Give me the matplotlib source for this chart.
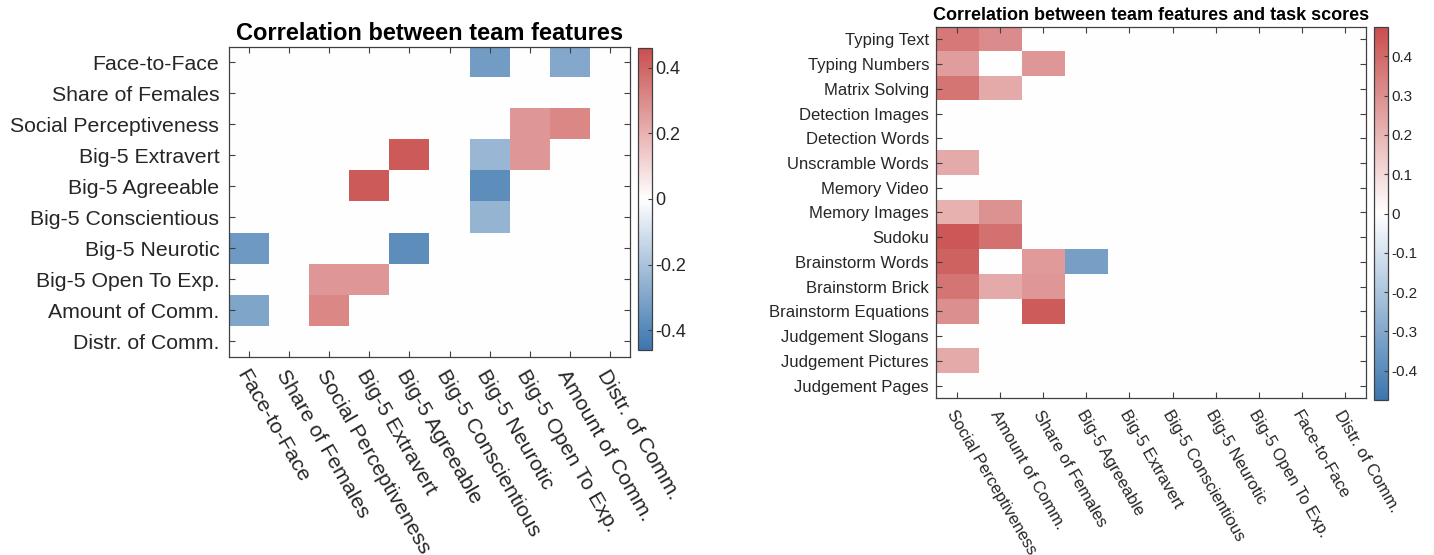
import matplotlib
matplotlib.use("Agg")
import matplotlib.pyplot as plt
from matplotlib.colors import LinearSegmentedColormap
import numpy as np

plt.rcParams["font.family"] = ["Liberation Sans", "DejaVu Sans"]

# ---- data -------------------------------------------------------------
team_features = [
    "Face-to-Face", "Share of Females", "Social Perceptiveness",
    "Big-5 Extravert", "Big-5 Agreeable", "Big-5 Conscientious",
    "Big-5 Neurotic", "Big-5 Open To Exp.", "Amount of Comm.",
    "Distr. of Comm.",
]

# rows = team_features, columns = team_features (0 = not significant)
team_corr = [
    [0, 0, 0, 0, 0, 0, -0.33, 0, -0.29, 0],
    [0, 0, 0, 0, 0, 0, 0, 0, 0, 0],
    [0, 0, 0, 0, 0, 0, 0, 0.27, 0.31, 0],
    [0, 0, 0, 0, 0.43, 0, -0.24, 0.27, 0, 0],
    [0, 0, 0, 0.43, 0, 0, -0.38, 0, 0, 0],
    [0, 0, 0, 0, 0, 0, -0.25, 0, 0, 0],
    [-0.34, 0, 0, 0, -0.38, 0, 0, 0, 0, 0],
    [0, 0, 0.27, 0.27, 0, 0, 0, 0, 0, 0],
    [-0.30, 0, 0.31, 0, 0, 0, 0, 0, 0, 0],
    [0, 0, 0, 0, 0, 0, 0, 0, 0, 0],
]

tasks = [
    "Typing Text", "Typing Numbers", "Matrix Solving", "Detection Images",
    "Detection Words", "Unscramble Words", "Memory Video", "Memory Images",
    "Sudoku", "Brainstorm Words", "Brainstorm Brick", "Brainstorm Equations",
    "Judgement Slogans", "Judgement Pictures", "Judgement Pages",
]

task_features = [
    "Social Perceptiveness", "Amount of Comm.", "Share of Females",
    "Big-5 Agreeable", "Big-5 Extravert", "Big-5 Conscientious",
    "Big-5 Neurotic", "Big-5 Open To Exp.", "Face-to-Face",
    "Distr. of Comm.",
]

# rows = tasks, columns = task_features
task_corr = [
    [0.36, 0.31, 0, 0, 0, 0, 0, 0, 0, 0],
    [0.26, 0, 0.28, 0, 0, 0, 0, 0, 0, 0],
    [0.37, 0.23, 0, 0, 0, 0, 0, 0, 0, 0],
    [0, 0, 0, 0, 0, 0, 0, 0, 0, 0],
    [0, 0, 0, 0, 0, 0, 0, 0, 0, 0],
    [0.23, 0, 0, 0, 0, 0, 0, 0, 0, 0],
    [0, 0, 0, 0, 0, 0, 0, 0, 0, 0],
    [0.21, 0.29, 0, 0, 0, 0, 0, 0, 0, 0],
    [0.45, 0.38, 0, 0, 0, 0, 0, 0, 0, 0],
    [0.42, 0, 0.27, -0.33, 0, 0, 0, 0, 0, 0],
    [0.37, 0.23, 0.28, 0, 0, 0, 0, 0, 0, 0],
    [0.30, 0, 0.44, 0, 0, 0, 0, 0, 0, 0],
    [0, 0, 0, 0, 0, 0, 0, 0, 0, 0],
    [0.23, 0, 0, 0, 0, 0, 0, 0, 0, 0],
    [0, 0, 0, 0, 0, 0, 0, 0, 0, 0],
]

team_ticks = [-0.4, -0.2, 0, 0.2, 0.4]
task_ticks = [-0.4, -0.3, -0.2, -0.1, 0, 0.1, 0.2, 0.3, 0.4]

# ---- style ------------------------------------------------------------
AXIS = "#404040"
TEXT = "#262626"
CMAP = LinearSegmentedColormap.from_list(
    "redblue", ["#3C76AE", "#FFFFFF", "#C94F4E"], N=256
)


def heatmap(fig, ax_rect, cb_rect, data, xlabels, ylabels, title, clim,
            cticks, label_size, title_size, cb_size, ypad):
    ax = fig.add_axes(ax_rect)
    data = np.array(data, dtype=float)
    im = ax.imshow(data, cmap=CMAP, vmin=-clim, vmax=clim,
                   aspect="auto", interpolation="nearest")

    ax.set_xticks(np.arange(len(xlabels)))
    ax.set_yticks(np.arange(len(ylabels)))
    ax.set_xticklabels(xlabels, rotation=-60, ha="left", va="top",
                       rotation_mode="anchor", fontsize=label_size, color=TEXT)
    ax.set_yticklabels(ylabels, fontsize=label_size, color=TEXT)
    ax.tick_params(axis="both", direction="in", length=4, width=0.8,
                   color=AXIS, top=True, right=True)
    ax.tick_params(axis="y", pad=ypad)
    ax.tick_params(axis="x", pad=7)
    for sp in ax.spines.values():
        sp.set_color(AXIS)
        sp.set_linewidth(0.9)
    ax.set_title(title, fontsize=title_size, fontweight="bold", pad=5)

    cax = fig.add_axes(cb_rect)
    cb = fig.colorbar(im, cax=cax, ticks=cticks)
    cb.ax.set_yticklabels([f"{t:g}" for t in cticks])
    cb.ax.tick_params(direction="in", length=3, width=0.8, color=AXIS,
                      labelsize=cb_size, labelcolor=TEXT, pad=2)
    cb.outline.set_edgecolor(AXIS)
    cb.outline.set_linewidth(0.9)
    return ax


fig = plt.figure(figsize=(14.34, 5.55), dpi=100)

heatmap(fig, [0.1597, 0.3568, 0.2796, 0.5586], [0.4449, 0.3694, 0.0098, 0.5441],
        team_corr, team_features, team_features,
        "Correlation between team features", 0.46, team_ticks,
        label_size=15.3, title_size=17, cb_size=13, ypad=7)

heatmap(fig, [0.6527, 0.2829, 0.2999, 0.6685], [0.9582, 0.2793, 0.0098, 0.6720],
        task_corr, task_features, tasks,
        "Correlation between team features and task scores", 0.475, task_ticks,
        label_size=12, title_size=13, cb_size=11, ypad=5)

fig.savefig("out.png", dpi=100)
